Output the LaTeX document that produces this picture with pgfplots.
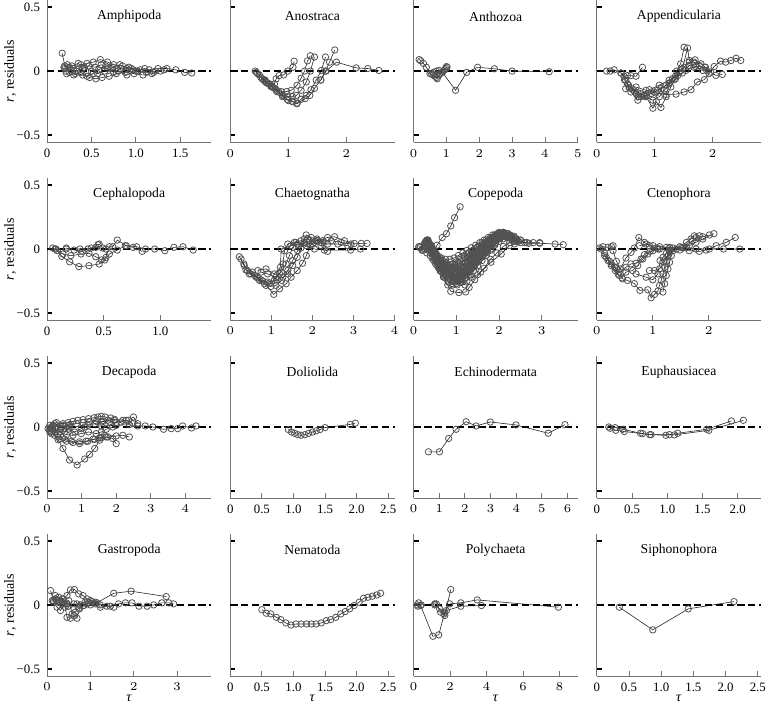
\documentclass[border=0pt]{standalone}
\usepackage{fontspec}
\setmainfont{Liberation Serif}
\usepackage{pgfplots}
\pgfplotsset{compat=1.18}
\usepgfplotslibrary{groupplots}
\usetikzlibrary{calc}

\pgfplotsset{
  panel/.style={
    scale only axis, width=82pt, height=71pt,
    xmin=0, ymin=-0.555, ymax=0.555,
    axis x line*=bottom, axis y line*=left,
    axis line style={black!55, line width=0.4pt, -},
    ytick={-0.5,0,0.5}, yticklabels={},
    tick align=inside,
    y tick style={black, line width=0.9pt},
    x tick style={black!55, line width=0.4pt},
    major tick length=2.5pt,
    tick label style={font=\fontsize{6.4}{7}\selectfont},
    clip=false,
  },
  traj/.style={black!85, line width=0.3pt, mark=o, mark size=1.6pt,
    mark options={draw=black!68, line width=0.4pt}},
  zero/.style={black, line width=1.1pt, dash pattern=on 3.6pt off 1.8pt},
}
\newcommand{\ptitle}[1]{\node[font=\fontsize{6.8}{8}\selectfont] at (rel axis cs:0.5,0.885) {#1};}

\begin{document}
\begin{tikzpicture}
\begin{groupplot}[group style={group size=4 by 4, horizontal sep=9.5pt, vertical sep=17.85pt}, panel]

% ---- row 1
\nextgroupplot[xmax=1.85, xtick={0,0.5,1,1.5}, xticklabels={0,0.5,1.0,1.5},
  yticklabels={−0.5,0,0.5}]
\addplot[traj] coordinates {(0.17,0.14) (0.2,0.04) (0.25,0.03) (0.3,0.02) (0.38,0.05) (0.45,0.06) (0.52,0.07) (0.6,0.09) (0.68,0.07) (0.75,0.05) (0.85,0.04) (0.95,0.02) (1.05,0.01) (1.15,0.01) (1.25,0.02) (1.35,0.02) (1.45,0.01) (1.55,-0.01) (1.63,-0.015)};
\addplot[traj] coordinates {(0.2,0.02) (0.25,-0.01) (0.32,-0.02) (0.4,-0.03) (0.48,-0.05) (0.55,-0.06) (0.62,-0.05) (0.7,-0.04) (0.78,-0.02) (0.88,-0.01) (0.98,-0.02) (1.08,-0.03) (1.18,-0.02) (1.28,0.0)};
\addplot[traj] coordinates {(0.19,0.03) (0.23,0.05) (0.28,0.04) (0.35,0.06) (0.42,0.03) (0.5,0.0) (0.57,-0.02) (0.65,0.0) (0.72,0.02) (0.8,0.0) (0.9,-0.03) (1.0,0.0) (1.1,0.02) (1.2,-0.01)};
\addplot[traj] coordinates {(0.21,0.0) (0.27,0.01) (0.33,0.0) (0.4,0.02) (0.47,0.04) (0.54,0.03) (0.61,0.05) (0.68,0.02) (0.75,-0.01) (0.83,0.02) (0.92,0.03) (1.02,0.0) (1.12,-0.01) (1.22,0.0) (1.32,0.01)};
\addplot[traj] coordinates {(0.22,-0.02) (0.3,-0.03) (0.38,-0.01) (0.45,-0.04) (0.52,-0.02) (0.58,0.01) (0.66,0.04) (0.74,0.03) (0.82,0.05) (0.9,0.02) (0.97,0.01)};
\addplot[zero] coordinates {(0,0) (1.85,0)};
\ptitle{Amphipoda}

\nextgroupplot[xmax=2.83, xtick={0,1,2}]
\addplot[traj] coordinates {(0.45,-0.01) (0.52,-0.045) (0.6,-0.07) (0.68,-0.1) (0.76,-0.1) (0.79,-0.06) (0.84,-0.035) (0.92,-0.03) (0.99,0.0) (1.08,0.03) (1.1,0.077)};
\addplot[traj] coordinates {(0.47,-0.02) (0.55,-0.06) (0.62,-0.09) (0.7,-0.12) (0.78,-0.14) (0.88,-0.16) (0.97,-0.16) (1.05,-0.15) (1.15,-0.11) (1.22,-0.055) (1.28,0.0) (1.33,0.08) (1.38,0.12)};
\addplot[traj] coordinates {(0.43,0.0) (0.5,-0.03) (0.58,-0.07) (0.66,-0.1) (0.75,-0.13) (0.84,-0.165) (0.92,-0.19) (0.99,-0.2) (1.07,-0.2) (1.14,-0.19) (1.22,-0.15) (1.31,-0.085) (1.38,0.0) (1.45,0.11)};
\addplot[traj] coordinates {(0.55,-0.06) (0.63,-0.09) (0.72,-0.125) (0.8,-0.16) (0.9,-0.2) (1.0,-0.23) (1.08,-0.24) (1.15,-0.25) (1.22,-0.22) (1.31,-0.19) (1.39,-0.145) (1.48,-0.07) (1.57,0.005) (1.64,0.11)};
\addplot[traj] coordinates {(0.6,-0.08) (0.7,-0.11) (0.8,-0.15) (0.9,-0.19) (0.98,-0.22) (1.06,-0.235) (1.15,-0.255) (1.29,-0.215) (1.37,-0.19) (1.45,-0.135) (1.56,-0.07) (1.64,0.0) (1.71,0.07) (1.8,0.165)};
\addplot[traj] coordinates {(1.56,-0.07) (1.65,0.0) (1.83,0.07) (2.17,0.025) (2.37,0.02) (2.56,0.005)};
\addplot[zero] coordinates {(0,0) (2.83,0)};
\ptitle{Anostraca}

\nextgroupplot[xmax=5, xtick={0,1,2,3,4,5}]
\addplot[traj] coordinates {(0.17,0.09) (0.22,0.08) (0.3,0.06) (0.39,0.03) (0.5,-0.02) (0.6,-0.03) (0.7,-0.05) (0.78,-0.03) (0.88,-0.01) (1.28,-0.15) (1.62,-0.01) (1.95,0.03) (2.46,0.018) (3.0,0.0) (4.13,-0.005)};
\addplot[traj] coordinates {(0.55,-0.02) (0.65,-0.04) (0.72,-0.06) (0.8,-0.02) (0.9,0.0) (0.98,0.02) (1.0,0.035)};
\addplot[traj] coordinates {(0.6,-0.01) (0.7,0.0) (0.78,0.005) (0.86,-0.01) (0.95,0.01) (1.02,0.03)};
\addplot[zero] coordinates {(0,0) (5,0)};
\ptitle{Anthozoa}

\nextgroupplot[xmax=2.84, xtick={0,1,2}]
\addplot[traj] coordinates {(0.17,0.0) (0.23,0.0) (0.3,0.01) (0.42,-0.015) (0.47,-0.04) (0.53,-0.035) (0.59,-0.035) (0.68,-0.04) (0.79,0.03)};
\addplot[traj] coordinates {(0.42,-0.015) (0.5,-0.07) (0.55,-0.11) (0.62,-0.14) (0.71,-0.17) (0.82,-0.19) (0.94,-0.175) (1.05,-0.15) (1.2,-0.11) (1.31,-0.06) (1.38,0.0) (1.45,0.057) (1.51,0.186)};
\addplot[traj] coordinates {(0.48,-0.07) (0.56,-0.13) (0.68,-0.176) (0.76,-0.2) (0.86,-0.19) (0.99,-0.163) (1.11,-0.137) (1.25,-0.093) (1.36,-0.04) (1.48,0.018) (1.57,0.18) (1.6,0.083) (1.68,0.07) (1.8,0.057) (1.88,0.03)};
\addplot[traj] coordinates {(0.5,-0.137) (0.59,-0.163) (0.71,-0.227) (0.85,-0.2) (0.97,-0.29) (1.03,-0.24) (1.11,-0.284) (1.2,-0.2) (1.28,-0.124) (1.36,-0.06) (1.43,-0.008) (1.51,0.03) (1.6,0.07) (1.7,0.088) (1.78,0.044) (1.9,0.005)};
\addplot[traj] coordinates {(0.53,-0.1) (0.65,-0.155) (0.76,-0.176) (0.91,-0.145) (1.08,-0.11) (1.25,-0.072) (1.4,-0.034) (1.54,0.005) (1.68,0.03) (1.83,0.005)};
\addplot[traj] coordinates {(0.68,-0.124) (0.85,-0.15) (1.02,-0.17) (1.2,-0.183) (1.37,-0.18) (1.51,-0.163) (1.63,-0.145) (1.74,-0.085) (1.86,-0.067) (1.94,-0.02) (2.03,0.036) (2.14,0.078) (2.23,0.07) (2.32,0.083) (2.41,0.1) (2.49,0.083)};
\addplot[traj] coordinates {(0.71,-0.2) (0.82,-0.196) (0.97,-0.227) (1.08,-0.2) (1.17,-0.15) (1.25,-0.098) (1.34,-0.067) (1.48,-0.015) (1.6,0.044) (1.71,0.036) (1.87,0.03) (1.97,-0.008) (2.06,-0.034) (2.17,-0.026)};
\addplot[zero] coordinates {(0,0) (2.84,0)};
\ptitle{Appendicularia}

% ---- row 2
\nextgroupplot[xmax=1.45, xtick={0,0.5,1}, xticklabels={0,0.5,1.0},
  yticklabels={−0.5,0,0.5}]
\addplot[traj] coordinates {(0.05,0.008) (0.09,-0.013) (0.13,-0.057) (0.2,-0.1) (0.28,-0.137) (0.37,-0.13) (0.46,-0.117) (0.51,-0.085) (0.55,-0.039) (0.62,-0.008) (0.69,0.026) (0.76,0.013) (0.84,-0.018)};
\addplot[traj] coordinates {(0.08,0.0) (0.14,-0.039) (0.21,-0.052) (0.3,-0.039) (0.37,-0.034) (0.43,-0.06) (0.48,-0.085) (0.52,-0.065) (0.55,0.018) (0.58,0.018) (0.62,0.07) (0.7,0.026) (0.79,0.018) (0.87,0.0) (0.95,0.0) (1.04,-0.013) (1.12,0.013) (1.2,0.018) (1.29,-0.008)};
\addplot[traj] coordinates {(0.17,0.008) (0.24,-0.008) (0.31,-0.018) (0.39,0.008) (0.45,0.034) (0.46,0.039) (0.49,0.008)};
\addplot[traj] coordinates {(0.07,0.0) (0.17,0.0) (0.29,0.0) (0.36,0.0) (0.43,0.013) (0.52,0.0)};
\addplot[zero] coordinates {(0,0) (1.45,0)};
\ptitle{Cephalopoda}

\nextgroupplot[xmax=4, xtick={0,1,2,3,4}]
\addplot[traj] coordinates {(0.22,-0.06) (0.33,-0.116) (0.42,-0.168) (0.59,-0.207) (0.75,-0.24) (0.91,-0.258) (1.07,-0.245) (1.2,-0.194) (1.28,-0.116) (1.32,-0.013) (1.4,0.039) (1.56,0.052) (1.72,0.065) (1.89,0.078) (2.13,0.065) (2.37,0.09) (2.54,0.096) (2.78,0.065) (3.02,0.044)};
\addplot[traj] coordinates {(0.26,-0.078) (0.38,-0.163) (0.5,-0.194) (0.67,-0.225) (0.83,-0.271) (0.99,-0.292) (1.11,-0.284) (1.25,-0.245) (1.4,-0.168) (1.52,-0.09) (1.64,-0.013) (1.8,0.052) (1.93,0.065) (2.05,0.052) (2.21,0.026) (2.37,-0.018)};
\addplot[traj] coordinates {(0.34,-0.13) (0.54,-0.18) (0.71,-0.245) (0.87,-0.284) (1.06,-0.354) (1.2,-0.31) (1.36,-0.271) (1.48,-0.22) (1.63,-0.168) (1.76,-0.111) (1.85,-0.052) (1.95,0.026) (2.09,0.065) (2.25,0.065) (2.46,0.065) (2.7,0.052) (2.94,0.039) (3.19,0.044) (3.33,0.044)};
\addplot[traj] coordinates {(0.46,-0.194) (0.63,-0.22) (0.79,-0.25) (0.95,-0.266) (1.14,-0.24) (1.28,-0.22) (1.4,-0.194) (1.52,-0.129) (1.63,-0.065) (1.72,0.008) (1.8,0.078) (1.85,0.11) (1.97,0.09) (2.11,0.078) (2.28,0.052)};
\addplot[traj] coordinates {(0.67,-0.168) (0.87,-0.155) (1.07,-0.194) (1.22,-0.142) (1.24,0.0) (1.48,0.026) (1.64,0.039) (1.85,0.026) (2.05,0.0) (2.29,-0.008) (2.93,-0.008) (3.17,0.0)};
\addplot[traj] coordinates {(0.75,-0.18) (0.91,-0.194) (1.11,-0.22) (1.24,-0.18) (1.36,-0.116) (1.44,-0.052) (1.52,0.013) (1.6,0.052) (1.8,0.039) (2.0,0.039) (2.21,0.052) (2.37,0.039) (2.62,0.039) (2.86,0.026)};
\addplot[zero] coordinates {(0,0) (4,0)};
\ptitle{Chaetognatha}

\nextgroupplot[xmax=3.84, xtick={0,1,2,3}]
\addplot[traj] coordinates {(0.12,0.018) (0.15,0.01) (0.25,0.04) (0.33,0.06) (0.42,0.0) (0.52,-0.06) (0.62,-0.1) (0.72,-0.13) (0.82,-0.15) (0.92,-0.16) (1.02,-0.15) (1.12,-0.13) (1.22,-0.1) (1.32,-0.07) (1.42,-0.04) (1.52,-0.01) (1.62,0.02) (1.72,0.05) (1.82,0.08) (1.92,0.1) (2.02,0.11) (2.15,0.1) (2.3,0.08) (2.45,0.06)};
\addplot[traj] coordinates {(0.2,0.0) (0.3,0.05) (0.38,0.02) (0.47,-0.05) (0.56,-0.11) (0.65,-0.16) (0.74,-0.2) (0.84,-0.23) (0.94,-0.25) (1.04,-0.25) (1.14,-0.23) (1.24,-0.2) (1.34,-0.16) (1.44,-0.12) (1.54,-0.08) (1.64,-0.04) (1.74,0.0) (1.84,0.04) (1.94,0.08) (2.04,0.1) (2.18,0.09) (2.35,0.06)};
\addplot[traj] coordinates {(0.28,0.06) (0.36,0.03) (0.45,-0.02) (0.55,-0.05) (0.65,-0.07) (0.75,-0.08) (0.85,-0.08) (0.95,-0.07) (1.05,-0.05) (1.15,-0.03) (1.25,-0.01) (1.35,0.01) (1.45,0.03) (1.55,0.05) (1.65,0.07) (1.75,0.09) (1.85,0.11) (1.95,0.12) (2.05,0.12) (2.2,0.1) (2.4,0.07) (2.6,0.05) (2.8,0.05) (2.95,0.05)};
\addplot[traj] coordinates {(0.32,0.07) (0.4,0.02) (0.5,-0.04) (0.6,-0.09) (0.7,-0.13) (0.8,-0.17) (0.9,-0.19) (1.0,-0.2) (1.1,-0.19) (1.2,-0.17) (1.3,-0.14) (1.4,-0.1) (1.5,-0.06) (1.6,-0.02) (1.7,0.02) (1.8,0.06) (1.9,0.09) (2.0,0.12) (2.1,0.13) (2.25,0.11)};
\addplot[traj] coordinates {(0.35,0.04) (0.43,-0.01) (0.53,-0.08) (0.63,-0.14) (0.73,-0.19) (0.83,-0.22) (0.93,-0.24) (1.03,-0.23) (1.13,-0.2) (1.23,-0.16) (1.33,-0.12) (1.43,-0.08) (1.53,-0.05) (1.63,-0.02) (1.73,0.01) (1.83,0.04) (1.93,0.07) (2.03,0.09) (2.13,0.1) (2.28,0.08) (2.45,0.06) (2.65,0.05)};
\addplot[traj] coordinates {(0.3,0.03) (0.37,0.0) (0.46,-0.03) (0.55,-0.07) (0.64,-0.1) (0.73,-0.12) (0.82,-0.13) (0.91,-0.12) (1.0,-0.1) (1.09,-0.08) (1.18,-0.06) (1.27,-0.04) (1.36,-0.02) (1.45,0.0) (1.54,0.02) (1.63,0.04) (1.72,0.06) (1.81,0.08) (1.9,0.1) (2.0,0.12)};
\addplot[traj] coordinates {(0.4,0.0) (0.5,-0.08) (0.6,-0.15) (0.7,-0.21) (0.8,-0.25) (0.9,-0.27) (1.0,-0.27) (1.1,-0.26) (1.2,-0.23) (1.3,-0.2) (1.4,-0.17) (1.5,-0.13) (1.6,-0.09) (1.7,-0.05) (1.8,-0.01) (1.9,0.03) (2.0,0.06) (2.1,0.08) (2.2,0.09) (2.3,0.08)};
\addplot[traj] coordinates {(0.22,-0.01) (0.29,0.02) (0.36,0.04) (0.44,0.01) (0.52,-0.03) (0.6,-0.06) (0.68,-0.09) (0.77,-0.11) (0.87,-0.12) (0.97,-0.12) (1.07,-0.11) (1.17,-0.09) (1.27,-0.07) (1.37,-0.05) (1.47,-0.03) (1.57,0.0) (1.67,0.03) (1.77,0.06) (1.87,0.09) (1.97,0.11) (2.1,0.12)};
\addplot[traj] coordinates {(0.5,-0.04) (0.58,-0.1) (0.67,-0.15) (0.76,-0.18) (0.86,-0.2) (0.96,-0.21) (1.06,-0.2) (1.16,-0.18) (1.26,-0.15) (1.36,-0.11) (1.46,-0.07) (1.56,-0.03) (1.66,0.0) (1.76,0.03) (1.86,0.06) (1.96,0.08) (2.06,0.1) (2.16,0.1) (2.3,0.09) (2.5,0.07)};
\addplot[traj] coordinates {(0.45,-0.02) (0.55,-0.06) (0.65,-0.1) (0.75,-0.15) (0.85,-0.19) (0.95,-0.22) (1.05,-0.22) (1.15,-0.21) (1.25,-0.19) (1.35,-0.15) (1.45,-0.1) (1.55,-0.06) (1.65,-0.02) (1.75,0.02) (1.85,0.05) (1.95,0.08) (2.05,0.1)};
\addplot[traj] coordinates {(0.25,0.02) (0.33,0.05) (0.41,0.03) (0.5,-0.03) (0.59,-0.08) (0.68,-0.12) (0.78,-0.16) (0.88,-0.18) (0.98,-0.19) (1.08,-0.18) (1.18,-0.16) (1.28,-0.13) (1.38,-0.1) (1.48,-0.06) (1.58,-0.03) (1.68,0.0) (1.78,0.03) (1.88,0.06) (1.98,0.09) (2.08,0.11) (2.2,0.12) (2.35,0.1)};
\addplot[traj] coordinates {(0.34,0.06) (0.42,0.0) (0.51,-0.06) (0.61,-0.11) (0.71,-0.16) (0.81,-0.2) (0.91,-0.22) (1.01,-0.22) (1.11,-0.21) (1.21,-0.18) (1.31,-0.14) (1.41,-0.09) (1.51,-0.05) (1.61,-0.01) (1.71,0.03) (1.81,0.07) (1.91,0.1) (2.01,0.12) (2.11,0.12)};
\addplot[traj] coordinates {(0.38,0.03) (0.46,-0.04) (0.56,-0.09) (0.66,-0.12) (0.76,-0.14) (0.86,-0.15) (0.96,-0.15) (1.06,-0.14) (1.16,-0.12) (1.26,-0.09) (1.36,-0.06) (1.46,-0.03) (1.56,0.0) (1.66,0.03) (1.76,0.05) (1.86,0.08) (1.96,0.1) (2.06,0.11) (2.2,0.1) (2.4,0.08)};
\addplot[traj] coordinates {(0.42,-0.03) (0.52,-0.1) (0.62,-0.17) (0.72,-0.22) (0.82,-0.26) (0.92,-0.28) (1.02,-0.28) (1.12,-0.26) (1.22,-0.22) (1.32,-0.18) (1.42,-0.14) (1.52,-0.1) (1.62,-0.06) (1.72,-0.02) (1.82,0.02) (1.92,0.05) (2.02,0.08) (2.12,0.1) (2.25,0.11)};
\addplot[traj] coordinates {(0.6,-0.08) (0.7,-0.11) (0.8,-0.13) (0.9,-0.14) (1.0,-0.14) (1.1,-0.13) (1.2,-0.11) (1.3,-0.08) (1.4,-0.05) (1.5,-0.02) (1.6,0.01) (1.7,0.04) (1.8,0.07) (1.9,0.09) (2.0,0.11) (2.1,0.12) (2.2,0.11) (2.35,0.09) (2.5,0.07)};
\addplot[traj] coordinates {(0.7,-0.17) (0.8,-0.2) (0.9,-0.22) (1.0,-0.24) (1.1,-0.22) (1.2,-0.2) (1.3,-0.17) (1.4,-0.13) (1.5,-0.09) (1.6,-0.06) (1.7,-0.03) (1.8,0.0) (1.9,0.04) (2.0,0.08) (2.1,0.1)};
\addplot[traj] coordinates {(0.55,-0.05) (0.63,-0.09) (0.72,-0.12) (0.81,-0.15) (0.9,-0.17) (0.99,-0.17) (1.08,-0.16) (1.17,-0.14) (1.26,-0.11) (1.35,-0.08) (1.44,-0.05) (1.53,-0.02) (1.62,0.01) (1.71,0.04) (1.8,0.07) (1.89,0.09) (1.98,0.1) (2.07,0.11) (2.16,0.11) (2.3,0.09)};
\addplot[traj] coordinates {(0.48,-0.07) (0.57,-0.13) (0.66,-0.18) (0.75,-0.21) (0.84,-0.23) (0.93,-0.24) (1.02,-0.24) (1.11,-0.23) (1.2,-0.2) (1.29,-0.16) (1.38,-0.12) (1.47,-0.08) (1.56,-0.04) (1.65,0.0) (1.74,0.03) (1.83,0.06) (1.92,0.09) (2.01,0.11) (2.1,0.12) (2.2,0.12)};
\addplot[traj] coordinates {(0.3,0.05) (0.34,0.07) (0.38,0.04) (0.42,0.0) (0.46,-0.03) (0.5,-0.05) (0.54,-0.07) (0.58,-0.09) (0.62,-0.11) (0.66,-0.12) (0.7,-0.13)};
\addplot[traj] coordinates {(1.2,-0.06) (1.3,-0.03) (1.4,-0.01) (1.5,0.02) (1.6,0.05) (1.7,0.07) (1.8,0.09) (1.9,0.11) (2.0,0.13) (2.1,0.13) (2.2,0.12) (2.3,0.1) (2.4,0.08)};
\addplot[traj] coordinates {(0.4,0.0) (0.48,-0.01) (0.55,0.03) (0.67,0.09) (0.77,0.12) (0.87,0.18) (0.96,0.245) (1.09,0.33)};
\addplot[traj] coordinates {(0.6,-0.15) (0.7,-0.22) (0.8,-0.28) (0.87,-0.33) (1.06,-0.34) (1.22,-0.335) (1.3,-0.3) (1.43,-0.24) (1.57,-0.18) (1.81,-0.103) (2.05,-0.039) (2.24,0.026) (2.36,0.04) (2.5,0.05) (2.7,0.045) (2.95,0.045) (3.31,0.039) (3.5,0.034)};
\addplot[traj] coordinates {(1.0,-0.25) (1.1,-0.26) (1.2,-0.28) (1.25,-0.25) (1.35,-0.22) (1.5,-0.2) (1.65,-0.15) (1.8,-0.08) (1.95,-0.03) (2.1,0.02) (2.25,0.05) (2.4,0.06)};
\addplot[traj] coordinates {(0.15,0.02) (0.2,-0.01) (0.26,0.03) (0.31,0.07) (0.35,0.05) (0.38,0.02) (0.42,-0.02) (0.48,-0.04) (0.55,-0.07) (0.62,-0.1)};
\addplot[traj] coordinates {(0.27,0.0) (0.31,-0.03) (0.35,-0.01) (0.39,-0.05) (0.43,-0.07) (0.47,-0.09) (0.52,-0.12) (0.57,-0.14) (0.63,-0.17)};
\addplot[zero] coordinates {(0,0) (3.84,0)};
\ptitle{Copepoda}

\nextgroupplot[xmax=2.93, xtick={0,1,2}]
\addplot[traj] coordinates {(0.05,0.008) (0.11,0.018) (0.2,0.013) (0.26,0.018) (0.29,0.026)};
\addplot[traj] coordinates {(0.08,0.0) (0.14,-0.052) (0.2,-0.09) (0.26,-0.13) (0.33,-0.168) (0.4,-0.207) (0.46,-0.233) (0.55,-0.245) (0.67,-0.27) (0.77,-0.323) (0.91,-0.318) (0.97,-0.38) (1.03,-0.354) (1.09,-0.328) (1.12,-0.284) (1.15,-0.245) (1.18,-0.194) (1.21,-0.142) (1.24,-0.096) (1.27,-0.052) (1.3,-0.018) (1.36,0.008) (1.51,0.013) (1.65,0.026) (1.77,0.052) (1.89,0.078) (2.09,0.12)};
\addplot[traj] coordinates {(0.14,-0.034) (0.23,-0.096) (0.32,-0.142) (0.38,-0.194) (0.45,-0.225) (0.52,-0.18) (0.64,-0.168) (0.73,-0.13) (0.82,-0.078) (0.91,-0.039) (1.0,-0.013) (1.12,0.0) (1.3,0.008) (1.48,-0.008) (1.65,-0.013) (1.83,-0.018) (1.95,-0.008) (2.13,0.026) (2.31,0.052) (2.47,0.09)};
\addplot[traj] coordinates {(0.17,-0.065) (0.26,-0.116) (0.35,-0.155) (0.4,-0.18) (0.52,-0.142) (0.61,-0.116) (0.7,-0.111) (0.79,-0.078) (0.85,-0.044) (0.95,-0.018) (1.09,0.0) (1.24,0.013)};
\addplot[traj] coordinates {(0.29,-0.013) (0.35,-0.096) (0.42,-0.155) (0.52,-0.07) (0.61,-0.026) (0.67,0.008) (0.75,0.09) (0.85,0.052) (0.94,0.026) (1.06,0.008)};
\addplot[traj] coordinates {(0.7,-0.194) (0.88,-0.22) (1.0,-0.24) (1.09,-0.194) (1.13,-0.09) (1.18,-0.065) (1.24,-0.034) (1.3,-0.01)};
\addplot[traj] coordinates {(1.18,-0.336) (1.21,-0.271) (1.24,-0.207) (1.27,-0.155) (1.3,-0.103) (1.33,-0.052) (1.36,-0.013) (1.48,0.018) (1.6,0.052) (1.68,0.078) (1.74,0.103) (1.83,0.103)};
\addplot[traj] coordinates {(0.94,-0.168) (1.03,-0.168) (1.12,-0.155) (1.2,-0.103) (1.25,-0.06) (1.3,-0.026) (1.42,0.0) (1.6,0.013) (1.7,0.065) (1.77,0.09) (1.89,0.096) (2.01,0.11)};
\addplot[traj] coordinates {(0.76,0.026) (0.88,0.039) (1.0,0.026) (1.12,0.018) (1.3,0.013) (1.54,0.008) (1.77,0.0) (2.01,0.0) (2.26,0.0) (2.55,0.0)};
\addplot[zero] coordinates {(0,0) (2.93,0)};
\ptitle{Ctenophora}

% ---- row 3
\nextgroupplot[xmax=4.75, xtick={0,1,2,3,4}, yticklabels={−0.5,0,0.5}]
\addplot[traj] coordinates {(0.13,-0.039) (0.32,-0.1) (0.46,-0.168) (0.65,-0.258) (0.87,-0.297) (1.09,-0.25) (1.23,-0.214) (1.38,-0.168) (1.52,-0.103) (1.66,-0.065)};
\addplot[traj] coordinates {(0.08,0.013) (0.27,0.034) (0.46,0.026) (0.61,0.034) (0.75,0.044) (0.89,0.052) (1.04,0.057) (1.2,0.065) (1.36,0.072) (1.47,0.078) (1.57,0.083) (1.68,0.078) (1.84,0.07) (1.95,0.052)};
\addplot[traj] coordinates {(0.08,-0.008) (0.27,0.008) (0.46,0.013) (0.65,0.018) (0.85,0.026) (1.04,0.034) (1.23,0.039) (1.42,0.044) (1.62,0.044) (1.81,0.039) (2.0,0.034) (2.19,0.052) (2.36,0.052) (2.5,0.078) (2.62,0.026)};
\addplot[traj] coordinates {(0.13,0.0) (0.61,0.008) (1.09,0.0) (1.57,0.008) (2.0,0.013) (2.38,0.018) (2.62,0.008) (2.84,0.008) (3.06,0.0) (3.37,-0.018) (3.59,-0.013) (3.78,-0.013) (3.92,0.008) (4.18,-0.008) (4.31,0.008)};
\addplot[traj] coordinates {(0.08,-0.026) (0.22,-0.065) (0.37,-0.096) (0.56,-0.111) (0.75,-0.121) (0.94,-0.116) (1.13,-0.111) (1.33,-0.096) (1.52,-0.085) (1.71,-0.078) (1.9,-0.09) (2.0,-0.13)};
\addplot[traj] coordinates {(0.13,-0.052) (0.32,-0.078) (0.51,-0.096) (0.7,-0.111) (0.94,-0.13) (1.18,-0.111) (1.38,-0.096) (1.57,-0.085) (1.76,-0.078) (2.0,-0.07) (2.19,-0.065) (2.38,-0.078)};
\addplot[traj] coordinates {(0.17,-0.018) (0.37,-0.039) (0.56,-0.06) (0.75,-0.065) (0.99,-0.052) (1.2,-0.039) (1.42,-0.052) (1.57,-0.039) (1.71,-0.018) (1.9,0.0)};
\addplot[traj] coordinates {(0.22,0.026) (0.41,0.0) (0.61,-0.018) (0.8,-0.039) (0.99,-0.013) (1.18,0.013) (1.38,0.026) (1.57,0.039) (1.76,0.052) (1.95,0.06) (2.14,0.039) (2.29,0.052) (2.48,0.026)};
\addplot[traj] coordinates {(0.03,-0.013) (0.08,-0.039) (0.13,-0.018) (0.17,0.013) (0.22,-0.008) (0.32,-0.052) (0.39,-0.018) (0.51,-0.039) (0.65,0.0)};
\addplot[zero] coordinates {(0,0) (4.75,0)};
\ptitle{Decapoda}

\nextgroupplot[xmax=2.6, xtick={0,0.5,1,1.5,2,2.5}, xticklabels={0,0.5,1.0,1.5,2.0,2.5}]
\addplot[traj] coordinates {(0.92,-0.02) (0.97,-0.04) (1.02,-0.05) (1.07,-0.06) (1.12,-0.065) (1.18,-0.06) (1.24,-0.05) (1.3,-0.04) (1.36,-0.03) (1.42,-0.02) (1.5,-0.005) (1.9,0.02) (1.98,0.03)};
\addplot[zero] coordinates {(0,0) (2.6,0)};
\ptitle{Doliolida}

\nextgroupplot[xmax=6.4, xtick={0,1,2,3,4,5,6}]
\addplot[traj] coordinates {(0.58,-0.194) (1.01,-0.194) (1.37,-0.09) (1.66,-0.018) (2.05,0.041) (2.44,0.008) (2.99,0.039) (3.99,0.016) (5.25,-0.049) (5.9,0.018)};
\addplot[zero] coordinates {(0,0) (6.4,0)};
\ptitle{Echinodermata}

\nextgroupplot[xmax=2.33, xtick={0,0.5,1,1.5,2}, xticklabels={0,0.5,1.0,1.5,2.0}]
\addplot[traj] coordinates {(0.17,0.0) (0.26,-0.005) (0.37,-0.018) (0.62,-0.049) (0.75,-0.06) (0.98,-0.065) (1.15,-0.049) (1.56,-0.018) (1.91,0.047)};
\addplot[traj] coordinates {(0.19,-0.01) (0.27,-0.026) (0.39,-0.036) (0.65,-0.052) (0.77,-0.06) (1.03,-0.06) (1.1,-0.062) (1.59,-0.026) (2.08,0.052)};
\addplot[zero] coordinates {(0,0) (2.33,0)};
\ptitle{Euphausiacea}

% ---- row 4
\nextgroupplot[xmax=3.79, xtick={0,1,2,3}, yticklabels={−0.5,0,0.5}]
\addplot[traj] coordinates {(0.08,0.112) (0.15,0.034) (0.25,0.021) (0.35,0.008) (0.42,-0.018) (0.46,-0.097) (0.54,-0.104) (0.62,-0.084) (0.69,-0.104) (0.75,-0.031) (0.83,-0.005) (0.96,0.021) (1.12,0.021) (1.23,-0.018) (1.38,-0.01) (1.54,-0.018)};
\addplot[traj] coordinates {(0.12,0.034) (0.19,0.073) (0.27,0.06) (0.38,0.047) (0.46,0.073) (0.54,0.117) (0.63,0.12) (0.73,0.086) (0.83,0.073) (0.92,0.047) (1.04,0.026) (1.15,0.016) (1.54,0.091) (1.94,0.107) (2.75,0.065)};
\addplot[traj] coordinates {(0.23,0.034) (0.35,0.021) (0.46,0.008) (0.62,0.008) (0.77,0.0) (0.92,0.008) (1.08,0.016) (1.23,0.0) (1.46,-0.01) (1.65,0.008) (1.81,0.016) (1.96,0.016) (2.12,-0.01) (2.31,-0.01) (2.46,0.0) (2.65,0.016) (2.81,0.016) (2.92,0.008)};
\addplot[traj] coordinates {(0.15,0.021) (0.23,-0.018) (0.31,-0.044) (0.38,0.008) (0.5,0.034) (0.58,-0.07) (0.65,-0.057) (0.73,-0.026) (0.85,-0.005) (1.0,0.0)};
\addplot[traj] coordinates {(0.19,0.047) (0.29,0.026) (0.35,0.047) (0.42,0.008) (0.5,-0.01) (0.69,0.008) (0.88,0.021) (1.0,0.034) (1.12,0.008)};
\addplot[zero] coordinates {(0,0) (3.79,0)};
\ptitle{Gastropoda}

\nextgroupplot[xmax=2.6, xtick={0,0.5,1,1.5,2,2.5}, xticklabels={0,0.5,1.0,1.5,2.0,2.5}]
\addplot[traj] coordinates {(0.5,-0.037) (0.57,-0.065) (0.64,-0.07) (0.73,-0.097) (0.8,-0.115) (0.88,-0.141) (0.96,-0.157) (1.04,-0.149) (1.12,-0.149) (1.21,-0.149) (1.28,-0.149) (1.36,-0.149) (1.44,-0.141) (1.52,-0.123) (1.59,-0.115) (1.67,-0.097) (1.75,-0.07) (1.82,-0.052) (1.89,-0.031) (1.96,-0.005) (2.04,0.021) (2.11,0.052) (2.18,0.06) (2.25,0.068) (2.32,0.078) (2.38,0.091)};
\addplot[zero] coordinates {(0,0) (2.6,0)};
\ptitle{Nematoda}

\nextgroupplot[xmax=9, xtick={0,2,4,6,8}]
\addplot[traj] coordinates {(0.2,0.0) (0.28,0.016) (0.42,0.0) (1.16,0.008) (1.25,0.008) (1.49,-0.057) (1.71,-0.083) (2.04,0.12)};
\addplot[traj] coordinates {(0.24,-0.01) (0.39,-0.005) (1.06,-0.245) (1.38,-0.234) (1.71,-0.057) (1.98,0.008) (2.59,0.016) (3.49,0.039) (7.94,-0.018)};
\addplot[traj] coordinates {(1.16,0.0) (1.43,-0.031) (1.67,-0.07) (1.8,-0.044) (2.59,-0.01) (3.72,-0.005)};
\addplot[zero] coordinates {(0,0) (9,0)};
\ptitle{Polychaeta}

\nextgroupplot[xmax=2.55, xtick={0,0.5,1,1.5,2,2.5}, xticklabels={0,0.5,1.0,1.5,2.0,2.5}]
\addplot[traj] coordinates {(0.35,-0.018) (0.87,-0.195) (1.42,-0.031) (2.13,0.026)};
\addplot[zero] coordinates {(0,0) (2.55,0)};
\ptitle{Siphonophora}

\end{groupplot}
% axis labels: y label on the first column, tau under the last row
\foreach \r in {1,2,3,4}
  \node[rotate=90, font=\fontsize{7}{8}\selectfont] at ($(group c1r\r.west)+(-18.5pt,0)$) {\textit{r}, residuals};
\foreach \c in {1,2,3,4}
  \node[font=\fontsize{7}{8}\selectfont] at ($(group c\c r4.south)+(0,-11.2pt)$) {\textit{τ}};
\pgfresetboundingbox
\path ($(group c1r1.north west)+(-23.5pt,0pt)$) rectangle ($(group c4r4.south east)+(4pt,-15.7pt)$);
\end{tikzpicture}
\end{document}
